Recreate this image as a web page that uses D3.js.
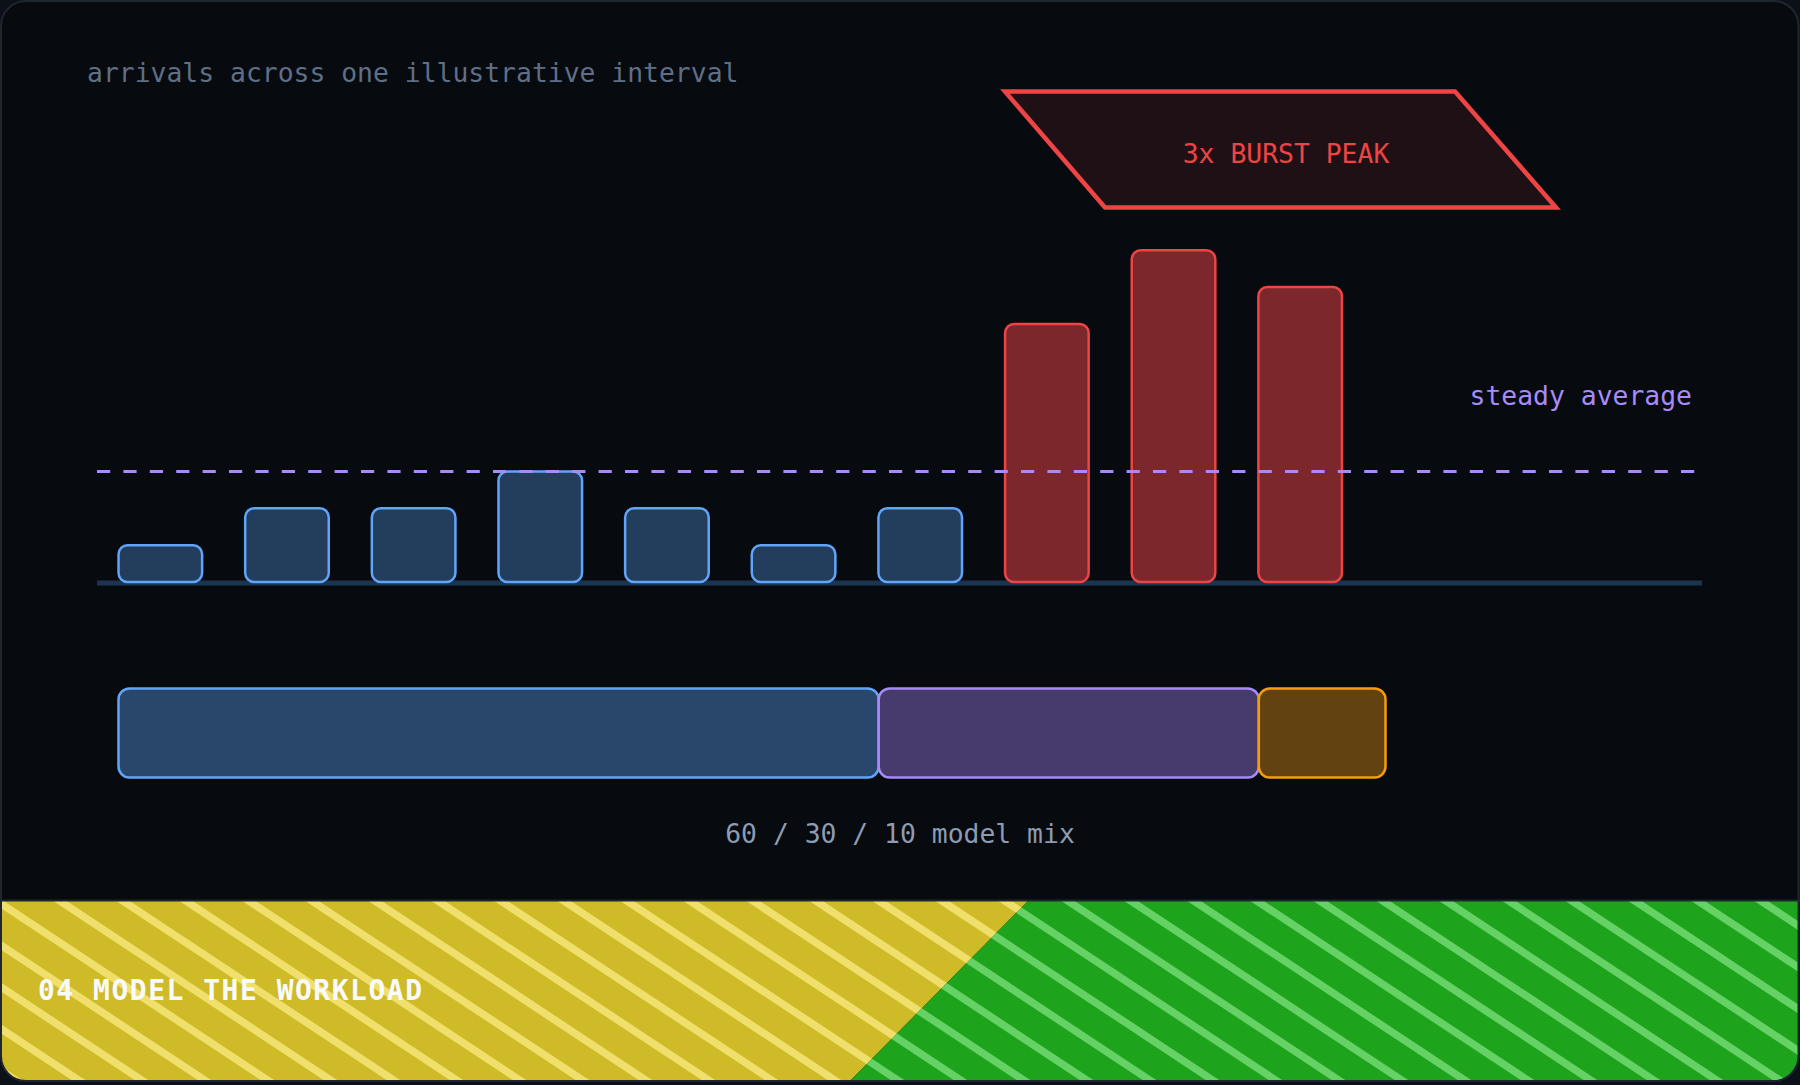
<!DOCTYPE html>
<html><head><meta charset="utf-8">
<script src="https://cdn.jsdelivr.net/npm/d3@7"></script>
<style>html,body{margin:0;padding:0;background:#0c1018;overflow:hidden;} svg{display:block;}</style>
</head><body>
<svg id="c" width="1800" height="1085"></svg>
<script>
// ---- data ----
const arrivalSlots = ["t1","t2","t3","t4","t5","t6","t7","t8","t9","t10"];
const arrivalValues = [1, 2, 2, 3, 2, 1, 2, 7, 9, 8];
const burstFlags = [false, false, false, false, false, false, false, true, true, true];
const steadyAverage = 3;
const mixModels = ["model A", "model B", "model C"];
const mixShares = [60, 30, 10];
const titleText = "arrivals across one illustrative interval";
const averageLabel = "steady average";
const burstLabel = "3x BURST PEAK";
const mixLabel = "60 / 30 / 10 model mix";
const footerLabel = "04 MODEL THE WORKLOAD";

// ---- setup ----
const W = 1800, H = 1085;
const svg = d3.select("#c");
const mono = "'DejaVu Sans Mono', 'Liberation Mono', monospace";
const defs = svg.append("defs");

defs.append("clipPath").attr("id", "cardClip")
  .append("rect").attr("x", 1).attr("y", 1).attr("width", 1797.5).attr("height", 1080).attr("rx", 25);

// card
svg.append("rect").attr("x", 1).attr("y", 1).attr("width", 1797.5).attr("height", 1080).attr("rx", 25)
  .attr("fill", "#070a0f");

// ---- bars ----
const x = d3.scaleBand().domain(arrivalSlots).range([97, 1363.5]).paddingInner(0.34).paddingOuter(0.17);
const y = d3.scaleLinear().domain([0, 9]).range([582, 250.2]);

svg.append("line").attr("x1", 97).attr("x2", 1702).attr("y1", 583).attr("y2", 583)
  .attr("stroke", "#1d3450").attr("stroke-width", 5);

const barData = arrivalSlots.map((s, i) => ({slot: s, value: arrivalValues[i], burst: burstFlags[i]}));
svg.append("g").selectAll("rect").data(barData).join("rect")
  .attr("x", d => x(d.slot))
  .attr("y", d => y(d.value))
  .attr("width", x.bandwidth())
  .attr("height", d => y(0) - y(d.value))
  .attr("rx", 9)
  .attr("fill", d => d.burst ? "#7c272c" : "#233d5c")
  .attr("stroke", d => d.burst ? "#ef4444" : "#60a5fa")
  .attr("stroke-width", 2.5);

// steady average line
svg.append("line").attr("x1", 97).attr("x2", 1697)
  .attr("y1", y(steadyAverage)).attr("y2", y(steadyAverage))
  .attr("stroke", "#a78bfa").attr("stroke-width", 3).attr("stroke-dasharray", "13.2 13.2");

svg.append("text").attr("x", 1692).attr("y", 405).attr("text-anchor", "end")
  .attr("font-family", mono).attr("font-size", 26.4).attr("fill", "#a78bfa").text(averageLabel);

// title
svg.append("text").attr("x", 87).attr("y", 82)
  .attr("font-family", mono).attr("font-size", 26.4).attr("fill", "#5f6f86").text(titleText);

// burst callout
const burstPts = [[1005, 91.5], [1455, 91.5], [1556, 207.5], [1105, 207.5]];
svg.append("polygon").attr("points", burstPts.map(p => p.join(",")).join(" "))
  .attr("fill", "#1f1016").attr("stroke", "#ef4444").attr("stroke-width", 4.5).attr("stroke-linejoin", "miter");
svg.append("text").attr("x", 1286).attr("y", 163).attr("text-anchor", "middle")
  .attr("font-family", mono).attr("font-size", 26.4).attr("fill", "#ef4444").text(burstLabel);

// ---- model mix ----
const xm = d3.scaleLinear().domain([0, 100]).range([118.5, 1385.5]);
const mixColors = {fill: ["#29476b", "#463b6b", "#614210"], stroke: ["#60a5fa", "#a78bfa", "#f59e0b"]};
let acc = 0;
const mixData = mixModels.map((m, i) => { const d = {model: m, start: acc, share: mixShares[i], i}; acc += mixShares[i]; return d; });
svg.append("g").selectAll("rect").data(mixData).join("rect")
  .attr("x", d => xm(d.start))
  .attr("y", 688.5)
  .attr("width", d => xm(d.start + d.share) - xm(d.start))
  .attr("height", 89)
  .attr("rx", 11)
  .attr("fill", d => mixColors.fill[d.i])
  .attr("stroke", d => mixColors.stroke[d.i])
  .attr("stroke-width", 2.5);

svg.append("text").attr("x", 900).attr("y", 843).attr("text-anchor", "middle")
  .attr("font-family", mono).attr("font-size", 26.4).attr("fill", "#8d9cb2").text(mixLabel);

// ---- footer ----
const fTop = 901, fBot = 1082;
const yellowPts = [[0, fTop], [1028, fTop], [849, fBot], [0, fBot]];
const greenPts = [[1028, fTop], [1800, fTop], [1800, fBot], [849, fBot]];
defs.append("clipPath").attr("id", "yClip").append("polygon").attr("points", yellowPts.map(p => p.join(",")).join(" "));
defs.append("clipPath").attr("id", "gClip").append("polygon").attr("points", greenPts.map(p => p.join(",")).join(" "));

const footer = svg.append("g").attr("clip-path", "url(#cardClip)");
const slope = 0.662, period = 63, phase = 60;
const stripeStarts = d3.range(-6, 30).map(k => phase + k * period);
function stripes(g, color) {
  g.selectAll("line").data(stripeStarts).join("line")
    .attr("x1", d => d - 20 / slope).attr("y1", fTop - 20)
    .attr("x2", d => d + (fBot - fTop + 20) / slope).attr("y2", fBot + 20)
    .attr("stroke", color).attr("stroke-width", 7.5);
}
const gy = footer.append("g").attr("clip-path", "url(#yClip)");
gy.append("rect").attr("x", 0).attr("y", fTop).attr("width", W).attr("height", fBot - fTop).attr("fill", "#cfbb28");
stripes(gy.append("g"), "#f0df6c");
const gg = footer.append("g").attr("clip-path", "url(#gClip)");
gg.append("rect").attr("x", 0).attr("y", fTop).attr("width", W).attr("height", fBot - fTop).attr("fill", "#1ea41c");
stripes(gg.append("g"), "#66d266");

svg.append("line").attr("x1", 0).attr("x2", W).attr("y1", 900.5).attr("y2", 900.5)
  .attr("stroke", "#1f2630").attr("stroke-width", 2);

svg.append("text").attr("x", 38).attr("y", 1000)
  .attr("font-family", mono).attr("font-weight", "bold").attr("font-size", 28)
  .attr("letter-spacing", 1.5).attr("fill", "#f8fafc").text(footerLabel);

// card border
svg.append("rect").attr("x", 1).attr("y", 1).attr("width", 1797.5).attr("height", 1080).attr("rx", 25)
  .attr("fill", "none").attr("stroke", "#1f2630").attr("stroke-width", 2);
</script>
</body></html>
